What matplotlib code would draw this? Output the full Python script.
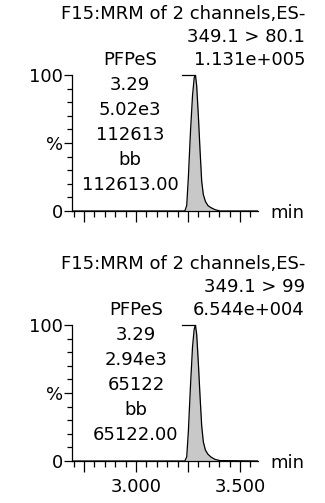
import matplotlib
matplotlib.use("Agg")
import matplotlib.pyplot as plt

plt.rcParams['font.family'] = ['DejaVu Sans']

W, H = 325, 503

# chromatogram data (retention time in min, relative intensity in %)
rt = [2.692, 3.235, 3.244, 3.252, 3.262, 3.272, 3.280, 3.286, 3.292, 3.300,
      3.308, 3.316, 3.324, 3.334, 3.346, 3.360, 3.380, 3.404, 3.587]
int_top = [0, 0, 4, 25, 58, 85, 98, 100, 92, 70, 45, 22, 12, 7, 4, 2.5, 1, 0, 0]
int_bot = [0, 0, 3, 22, 55, 84, 97, 100, 93, 72, 48, 26, 14, 8, 5, 3, 1.2, 0.3, 0]

title = "F15:MRM of 2 channels,ES-"
transitions = ["349.1 > 80.1", "349.1 > 99"]
max_counts = ["1.131e+005", "6.544e+004"]
peak_labels = [["PFPeS", "3.29", "5.02e3", "112613", "bb", "112613.00"],
               ["PFPeS", "3.29", "2.94e3", "65122", "bb", "65122.00"]]

x_major = [2.75, 3.0, 3.25, 3.5]
x_minor = [2.70 + 0.05 * i for i in range(18)]
x_labels = ["", "3.000", "", "3.500"]

fig = plt.figure(figsize=(W / 100, H / 100), dpi=100)
fs = 13


def fx(px):
    return px / W


def fy(py):
    return 1 - py / H


panels = [(0, int_top), (250, int_bot)]
block_x = [130, 136]

for k, (off, inten) in enumerate(panels):
    ax = fig.add_axes([fx(72), fy(211 + off), fx(258) - fx(72), (136) / H])
    ax.set_xlim(rt[0], rt[-1])
    ax.set_ylim(0, 100)
    ax.fill_between(rt, inten, color='#c8c8c8', lw=0)
    ax.plot(rt, inten, color='black', lw=0.9)
    # apex marker line
    ax.plot([3.221, 3.286], [100, 100], color='black', lw=0.9, clip_on=False)

    for s in ['top', 'right']:
        ax.spines[s].set_visible(False)
    ax.spines['left'].set_linewidth(0.9)
    ax.spines['bottom'].set_linewidth(0.9)

    ax.set_yticks([0, 50, 100])
    ax.set_yticklabels(['0', '%', '100'], fontsize=fs)
    ax.set_yticks(range(0, 101, 10), minor=True)
    ax.tick_params(axis='y', which='major', length=6, width=0.9, pad=0.5)
    ax.tick_params(axis='y', which='minor', length=3.3, width=0.9)

    ax.set_xticks(x_major)
    ax.set_xticks(x_minor, minor=True)
    if k == 1:
        ax.set_xticklabels(x_labels, fontsize=fs)
    else:
        ax.set_xticklabels([''] * len(x_major))
    ax.tick_params(axis='x', which='major', length=8, width=0.9, pad=4)
    ax.tick_params(axis='x', which='minor', length=4.5, width=0.9)

    fig.text(fx(270), fy(213 + off), "min", fontsize=fs, ha='left', va='center')

    fig.text(fx(305), fy(14 + off), title, fontsize=fs, ha='right', va='center')
    fig.text(fx(305), fy(37 + off), transitions[k], fontsize=fs, ha='right', va='center')
    fig.text(fx(305), fy(60 + off), max_counts[k], fontsize=fs, ha='right', va='center')

    for j, lab in enumerate(peak_labels[k]):
        fig.text(fx(block_x[k]), fy(60 + off + 25 * j), lab, fontsize=fs,
                 ha='center', va='center')

fig.savefig("out.png", dpi=100)
